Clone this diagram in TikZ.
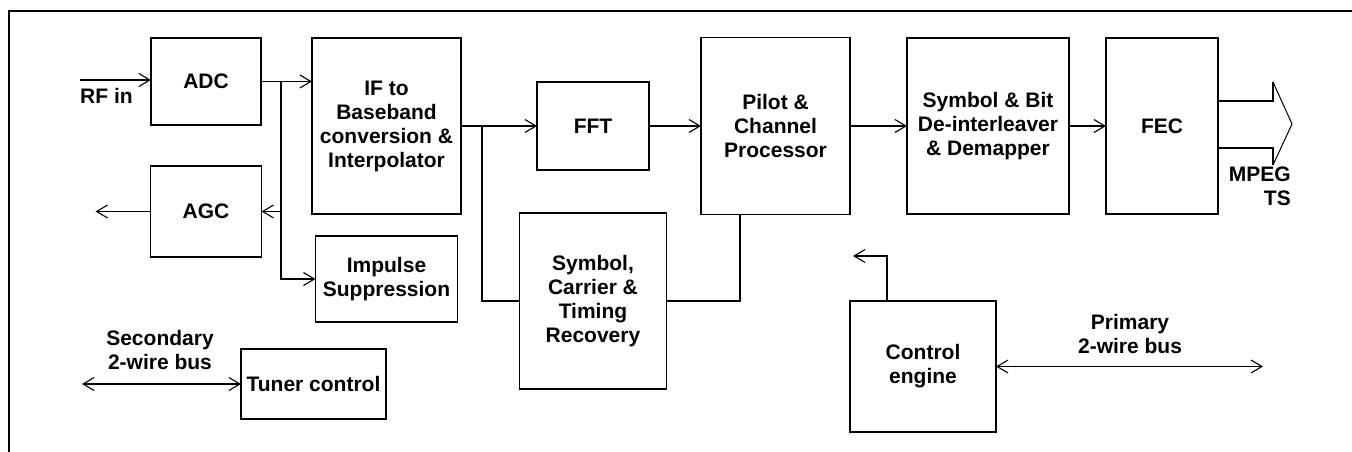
\documentclass[tikz,border=0pt]{standalone}
\usepackage{fontspec}
\setmainfont{Liberation Sans}
\usetikzlibrary{positioning, arrows.meta}
\tikzset{>={Straight Barb[length=11pt, width=13pt, line width=1.1pt]}}

\begin{document}
\begin{tikzpicture}[
  x=1pt, y=-1pt,
  box/.style={rectangle, draw=black, line width=1.6pt,
              align=center, inner sep=2pt, outer sep=0pt,
              font=\bfseries\fontsize{21}{24}\selectfont},
  lbl/.style={inner sep=0pt, align=center,
              font=\bfseries\fontsize{21}{24}\selectfont},
  wire/.style={line width=1.6pt},
  arr/.style={wire, ->},
  dbl/.style={wire, <->},
]
  \useasboundingbox (0,0) rectangle (1352,452);
  \draw[wire] (9,452) -- (9,11) -- (1352,11);

  % front end
  \node[box, minimum width=149pt, minimum height=176pt] (ifconv) at (386.5,126)
    {IF to\\Baseband\\conversion \&\\Interpolator};
  \node[box, minimum width=110pt, minimum height=87pt,
        left=51pt of ifconv.north west, anchor=north east] (adc) {ADC};
  \node[box, minimum width=111pt, minimum height=91pt, below=41pt of adc] (agc) {AGC};
  \node[box, minimum width=142pt, minimum height=86pt, below=22pt of ifconv] (impulse)
    {Impulse\\Suppression};
  \node[box, minimum width=145pt, minimum height=70pt] (tuner) at (313.5,384) {Tuner control};

  % demodulator
  \node[box, minimum width=112pt, minimum height=88pt, right=76pt of ifconv] (fft) {FFT};
  \node[box, minimum width=147pt, minimum height=176pt, below=43pt of fft] (sync)
    {Symbol,\\Carrier \&\\Timing\\Recovery};
  \node[box, minimum width=149pt, minimum height=177pt, right=52pt of fft] (pilot)
    {Pilot \&\\Channel\\Processor};
  \node[box, minimum width=162pt, minimum height=176pt, right=57pt of pilot] (demap)
    {Symbol \& Bit\\De-interleaver\\\& Demapper};
  \node[box, minimum width=112pt, minimum height=176pt, right=37pt of demap] (fec) {FEC};
  \node[box, minimum width=146pt, minimum height=131pt] (ctrl) at (923,366.5)
    {Control\\engine};

  % input side
  \coordinate (rfin) at (80,80);
  \draw[arr] (rfin) -- (rfin -| adc.west);
  \node[lbl, below right=8pt and 0pt of rfin] (rflbl) {RF in};

  \coordinate (split1) at (281,0 |- adc.east);
  \draw[arr] (adc) -- (adc -| ifconv.west);
  \draw[arr] (split1) |- (impulse);
  \draw[arr] (split1 |- agc) -- (agc);
  \coordinate[left=55pt of agc.west] (agcout);
  \draw[arr] (agc) -- (agcout);

  \coordinate (secbus) at (82,0 |- tuner);
  \draw[dbl] (secbus) -- (tuner);
  \node[lbl, anchor=south] (seclbl) at (160,370) {Secondary\\2-wire bus};

  % main chain
  \coordinate (split2) at (482,0 |- fft);
  \draw[arr] (ifconv.east |- fft) -- (fft);
  \draw[wire] (split2) |- (sync);
  \draw[arr] (fft) -- (pilot);
  \draw[wire] ([xshift=-35.5pt]pilot.south) |- (sync);
  \draw[arr] (pilot) -- (demap);
  \draw[arr] (demap) -- (fec);

  % MPEG TS output
  \coordinate (mpegtop) at (1273,101);
  \coordinate (mpegbot) at (1273,148);
  \coordinate (mpegtip) at (1292,124);
  \draw[wire] (fec.east |- mpegtop) -- (mpegtop) -- (1273,82);
  \draw[wire] (fec.east |- mpegbot) -- (mpegbot) -- (1273,165);
  \draw[line width=1pt] (1273,82) -- (mpegtip) -- (1273,165);
  \node[lbl, align=right, anchor=north east] (mpeglbl) at (1291,167) {MPEG\\TS};

  % control
  \coordinate (ctrlfb) at (853,256);
  \draw[arr] ([xshift=-36pt]ctrl.north) |- (ctrlfb);
  \coordinate (pribus) at (1263,0 |- ctrl);
  \draw[dbl] (ctrl) -- (pribus);
  \node[lbl, anchor=south] (prilbl) at (1130,354) {Primary\\2-wire bus};
\end{tikzpicture}
\end{document}
